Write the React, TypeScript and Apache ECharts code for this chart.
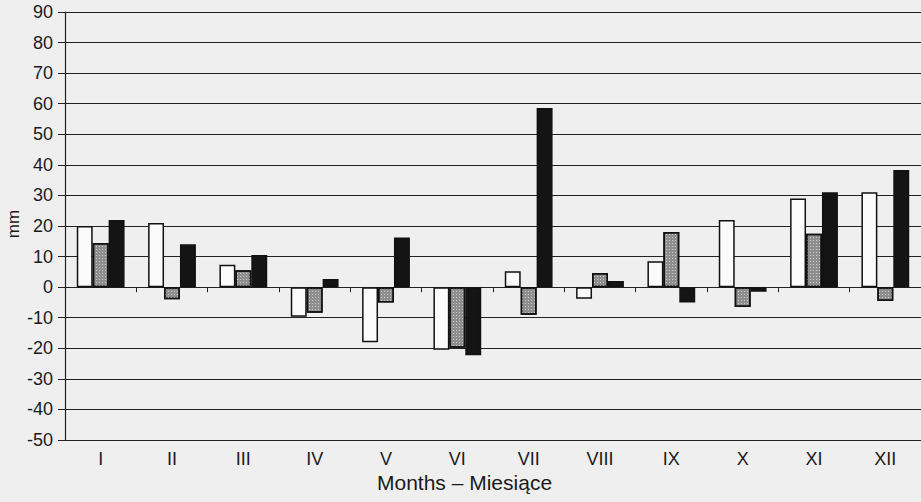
import React, { useEffect, useRef } from "react";
import * as echarts from "echarts";

const months = ["I", "II", "III", "IV", "V", "VI", "VII", "VIII", "IX", "X", "XI", "XII"];
const seriesWhite = [20, 21, 7.3, -9.7, -18, -20.5, 5.2, -3.8, 8.5, 22, 29, 31];
const seriesGray = [14.4, -4, 5.5, -8.4, -5, -19.8, -9, 4.6, 18, -6.5, 17.5, -4.5];
const seriesBlack = [22, 14, 10.5, 2.7, 16.2, -22.3, 58.6, 2, -5, -1.5, 31, 38.3];

export default function App() {
  const ref = useRef<HTMLDivElement>(null);
  useEffect(() => {
    if (!ref.current) return;
    const chart = echarts.init(ref.current, null, { renderer: "svg" });
    const font = "Liberation Sans, Arial, sans-serif";
    const border = { borderColor: "#111", borderWidth: 1.5 };
    chart.setOption({
      animation: false,
      backgroundColor: "#efefef",
      textStyle: { fontFamily: font, color: "#1a1a1a" },
      grid: { left: 65, right: 0, top: 12, bottom: 62, outerBoundsMode: "none", containLabel: false },
      graphic: [
        {
          type: "text",
          left: 465 - 88,
          top: 472,
          style: {
            text: "Months \u2013 Miesi\u0105ce",
            font: "21px Liberation Sans, Arial, sans-serif",
            fill: "#1a1a1a",
          },
        },
        {
          type: "text",
          x: 13,
          y: 224,
          rotation: Math.PI / 2,
          style: {
            text: "mm",
            font: "17px Liberation Sans, Arial, sans-serif",
            fill: "#1a1a1a",
            align: "center",
            verticalAlign: "middle",
          },
        },
      ],
      xAxis: [
        {
          type: "category",
          data: months,
          position: "bottom",
          axisLine: { onZero: false, lineStyle: { color: "#222", width: 1.2 } },
          axisTick: { show: false },
          axisLabel: { fontSize: 18, color: "#1a1a1a", margin: 10, fontFamily: font },
        },
        {
          type: "category",
          data: months,
          position: "bottom",
          axisLine: { onZero: true, lineStyle: { color: "#222", width: 1.2 } },
          axisTick: { show: true, length: 5, inside: false, lineStyle: { color: "#222" } },
          axisLabel: { show: false },
        },
      ],
      yAxis: {
        type: "value",
        min: -50,
        max: 90,
        interval: 10,
        axisLine: { show: true, lineStyle: { color: "#222", width: 1.2 } },
        axisTick: { show: true, length: 7, lineStyle: { color: "#222" } },
        axisLabel: { fontSize: 18, color: "#1a1a1a", margin: 12, fontFamily: font },
        splitLine: { show: true, lineStyle: { color: "#222", width: 1.2 } },
      },
      series: [
        {
          type: "bar",
          data: seriesWhite,
          barGap: "0%",
          barCategoryGap: "33%",
          itemStyle: { color: "#fbfbfb", ...border },
        },
        {
          type: "bar",
          data: seriesGray,
          barGap: "0%",
          barCategoryGap: "33%",
          itemStyle: {
            color: "#8e8e8e",
            ...border,
            decal: {
              symbol: "rect",
              symbolSize: 1,
              color: "rgba(255,255,255,0.55)",
              dashArrayX: [1, 2],
              dashArrayY: [1, 2],
              rotation: 0,
            },
          },
        },
        {
          type: "bar",
          data: seriesBlack,
          barGap: "0%",
          barCategoryGap: "33%",
          itemStyle: { color: "#141414", ...border },
        },
      ],
    });
    return () => chart.dispose();
  }, []);
  return (
    <div
      ref={ref}
      style={{ position: "absolute", left: 0, top: 0, width: 921, height: 502 }}
    />
  );
}
